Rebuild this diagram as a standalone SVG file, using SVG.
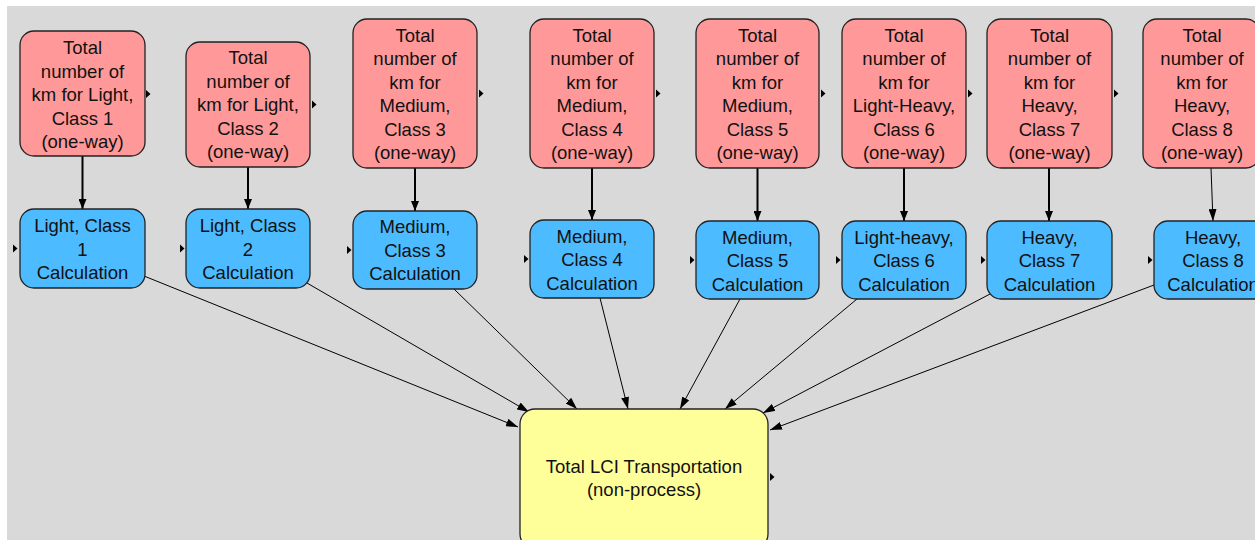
<svg xmlns="http://www.w3.org/2000/svg" width="1255" height="540" viewBox="0 0 1255 540">
  <style>
    .red { fill: #ff9999; stroke: #222; stroke-width: 1.3; }
    .blue { fill: #4dbbff; stroke: #222; stroke-width: 1.3; }
    .yellow { fill: #ffff99; stroke: #222; stroke-width: 1.3; }
    text { font-family: "Liberation Sans", Arial, sans-serif; font-size: 18.5px; fill: #111; text-anchor: middle; }
    .thick { stroke: #000; stroke-width: 2; fill: none; marker-end: url(#headBig); }
    .thin { stroke: #000; stroke-width: 1; fill: none; marker-end: url(#headSmall); }
    .tab { fill: #000; }
  </style>
  <defs>
    <marker id="headBig" markerUnits="userSpaceOnUse" viewBox="0 0 10 8" refX="10" refY="4" markerWidth="10" markerHeight="8" orient="auto">
      <path d="M0,0 L10,4 L0,8 Z" fill="#000"/>
    </marker>
    <marker id="headSmall" markerUnits="userSpaceOnUse" viewBox="0 0 12 8" refX="12" refY="4" markerWidth="12" markerHeight="8" orient="auto">
      <path d="M0,0 L12,4 L0,8 Z" fill="#000"/>
    </marker>
  </defs>

  <!-- canvas -->
  <rect x="0" y="0" width="1255" height="540" fill="#ffffff"/>
  <rect x="7" y="6" width="1248" height="534" fill="#d9d9d9"/>

  <!-- connectors -->
  <g id="connectors">
    <line class="thick" x1="82.5" y1="156" x2="82.5" y2="209"/>
    <line class="thick" x1="248" y1="167" x2="248" y2="209"/>
    <line class="thick" x1="415" y1="168" x2="415" y2="211"/>
    <line class="thick" x1="592" y1="168" x2="592" y2="220"/>
    <line class="thick" x1="757.5" y1="168" x2="757.5" y2="221"/>
    <line class="thick" x1="904" y1="168" x2="904" y2="221"/>
    <line class="thick" x1="1049" y1="168" x2="1049" y2="221"/>
    <line class="thin" x1="1211" y1="168" x2="1213" y2="221"/>

    <line class="thin" x1="144" y1="276" x2="518" y2="427"/>
    <line class="thin" x1="307" y1="283" x2="529" y2="412"/>
    <line class="thin" x1="454" y1="289" x2="577" y2="409"/>
    <line class="thin" x1="600" y1="298" x2="628" y2="409"/>
    <line class="thin" x1="740" y1="299" x2="680" y2="409"/>
    <line class="thin" x1="857" y1="299" x2="725" y2="409"/>
    <line class="thin" x1="990" y1="294" x2="763" y2="413"/>
    <line class="thin" x1="1154" y1="285" x2="770" y2="430"/>
  </g>

  <!-- distance inputs -->
  <g id="km-light-1">
    <rect class="red" x="20" y="31" width="125" height="125" rx="14"/>
    <polygon class="tab" points="146,90 146,98 150.5,94"/>
    <text x="82.5" y="54">Total</text>
    <text x="82.5" y="77.5">number of</text>
    <text x="82.5" y="101">km for Light,</text>
    <text x="82.5" y="124.5">Class 1</text>
    <text x="82.5" y="148">(one-way)</text>
  </g>
  <g id="km-light-2">
    <rect class="red" x="186" y="42" width="124" height="125" rx="14"/>
    <polygon class="tab" points="312,100.5 312,108.5 316.5,104.5"/>
    <text x="248" y="64">Total</text>
    <text x="248" y="87.5">number of</text>
    <text x="248" y="111">km for Light,</text>
    <text x="248" y="134.5">Class 2</text>
    <text x="248" y="158">(one-way)</text>
  </g>
  <g id="km-medium-3">
    <rect class="red" x="353" y="19" width="124" height="149" rx="14"/>
    <polygon class="tab" points="479,89.5 479,97.5 483.5,93.5"/>
    <text x="415" y="41.75">Total</text>
    <text x="415" y="65.25">number of</text>
    <text x="415" y="88.75">km for</text>
    <text x="415" y="112.25">Medium,</text>
    <text x="415" y="135.75">Class 3</text>
    <text x="415" y="159.25">(one-way)</text>
  </g>
  <g id="km-medium-4">
    <rect class="red" x="530" y="19" width="124" height="149" rx="14"/>
    <polygon class="tab" points="656,89.5 656,97.5 660.5,93.5"/>
    <text x="592" y="41.75">Total</text>
    <text x="592" y="65.25">number of</text>
    <text x="592" y="88.75">km for</text>
    <text x="592" y="112.25">Medium,</text>
    <text x="592" y="135.75">Class 4</text>
    <text x="592" y="159.25">(one-way)</text>
  </g>
  <g id="km-medium-5">
    <rect class="red" x="696" y="19" width="123" height="149" rx="14"/>
    <polygon class="tab" points="821,89.5 821,97.5 825.5,93.5"/>
    <text x="757.5" y="41.75">Total</text>
    <text x="757.5" y="65.25">number of</text>
    <text x="757.5" y="88.75">km for</text>
    <text x="757.5" y="112.25">Medium,</text>
    <text x="757.5" y="135.75">Class 5</text>
    <text x="757.5" y="159.25">(one-way)</text>
  </g>
  <g id="km-lightheavy-6">
    <rect class="red" x="842" y="19" width="124" height="149" rx="14"/>
    <polygon class="tab" points="968,89.5 968,97.5 972.5,93.5"/>
    <text x="904" y="41.75">Total</text>
    <text x="904" y="65.25">number of</text>
    <text x="904" y="88.75">km for</text>
    <text x="904" y="112.25">Light-Heavy,</text>
    <text x="904" y="135.75">Class 6</text>
    <text x="904" y="159.25">(one-way)</text>
  </g>
  <g id="km-heavy-7">
    <rect class="red" x="987" y="19" width="125" height="149" rx="14"/>
    <polygon class="tab" points="1114,89.5 1114,97.5 1118.5,93.5"/>
    <text x="1049.5" y="41.75">Total</text>
    <text x="1049.5" y="65.25">number of</text>
    <text x="1049.5" y="88.75">km for</text>
    <text x="1049.5" y="112.25">Heavy,</text>
    <text x="1049.5" y="135.75">Class 7</text>
    <text x="1049.5" y="159.25">(one-way)</text>
  </g>
  <g id="km-heavy-8">
    <rect class="red" x="1143" y="19" width="117" height="149" rx="14"/>
    <text x="1202" y="41.75">Total</text>
    <text x="1202" y="65.25">number of</text>
    <text x="1202" y="88.75">km for</text>
    <text x="1202" y="112.25">Heavy,</text>
    <text x="1202" y="135.75">Class 8</text>
    <text x="1202" y="159.25">(one-way)</text>
  </g>

  <!-- per-class calculations -->
  <g id="calc-light-1">
    <rect class="blue" x="20" y="209" width="125" height="79" rx="14"/>
    <polygon class="tab" points="13,244.5 13,252.5 17.5,248.5"/>
    <text x="82.5" y="232">Light, Class</text>
    <text x="82.5" y="255.5">1</text>
    <text x="82.5" y="279">Calculation</text>
  </g>
  <g id="calc-light-2">
    <rect class="blue" x="186" y="209" width="124" height="79" rx="14"/>
    <polygon class="tab" points="180,244.5 180,252.5 184.5,248.5"/>
    <text x="248" y="232">Light, Class</text>
    <text x="248" y="255.5">2</text>
    <text x="248" y="279">Calculation</text>
  </g>
  <g id="calc-medium-3">
    <rect class="blue" x="353" y="211" width="124" height="78" rx="14"/>
    <polygon class="tab" points="347,246 347,254 351.5,250"/>
    <text x="415" y="233">Medium,</text>
    <text x="415" y="256.5">Class 3</text>
    <text x="415" y="280">Calculation</text>
  </g>
  <g id="calc-medium-4">
    <rect class="blue" x="530" y="220" width="124" height="78" rx="14"/>
    <polygon class="tab" points="524,255 524,263 528.5,259"/>
    <text x="592" y="242.5">Medium,</text>
    <text x="592" y="266">Class 4</text>
    <text x="592" y="289.5">Calculation</text>
  </g>
  <g id="calc-medium-5">
    <rect class="blue" x="696" y="221" width="123" height="78" rx="14"/>
    <polygon class="tab" points="690,256 690,264 694.5,260"/>
    <text x="757.5" y="243.5">Medium,</text>
    <text x="757.5" y="267">Class 5</text>
    <text x="757.5" y="290.5">Calculation</text>
  </g>
  <g id="calc-lightheavy-6">
    <rect class="blue" x="842" y="221" width="124" height="78" rx="14"/>
    <polygon class="tab" points="836,256 836,264 840.5,260"/>
    <text x="904" y="243.5">Light-heavy,</text>
    <text x="904" y="267">Class 6</text>
    <text x="904" y="290.5">Calculation</text>
  </g>
  <g id="calc-heavy-7">
    <rect class="blue" x="987" y="221" width="125" height="78" rx="14"/>
    <polygon class="tab" points="981,256 981,264 985.5,260"/>
    <text x="1049.5" y="243.5">Heavy,</text>
    <text x="1049.5" y="267">Class 7</text>
    <text x="1049.5" y="290.5">Calculation</text>
  </g>
  <g id="calc-heavy-8">
    <rect class="blue" x="1154" y="221" width="118" height="78" rx="14"/>
    <polygon class="tab" points="1148,256 1148,264 1152.5,260"/>
    <text x="1213" y="243.5">Heavy,</text>
    <text x="1213" y="267">Class 8</text>
    <text x="1213" y="290.5">Calculation</text>
  </g>

  <!-- total -->
  <g id="total-lci">
    <rect class="yellow" x="520" y="409" width="248" height="140" rx="15"/>
    <polygon class="tab" points="770,473 770,481 774.5,477"/>
    <text x="644" y="472.5">Total LCI Transportation</text>
    <text x="644" y="496">(non-process)</text>
  </g>
</svg>
